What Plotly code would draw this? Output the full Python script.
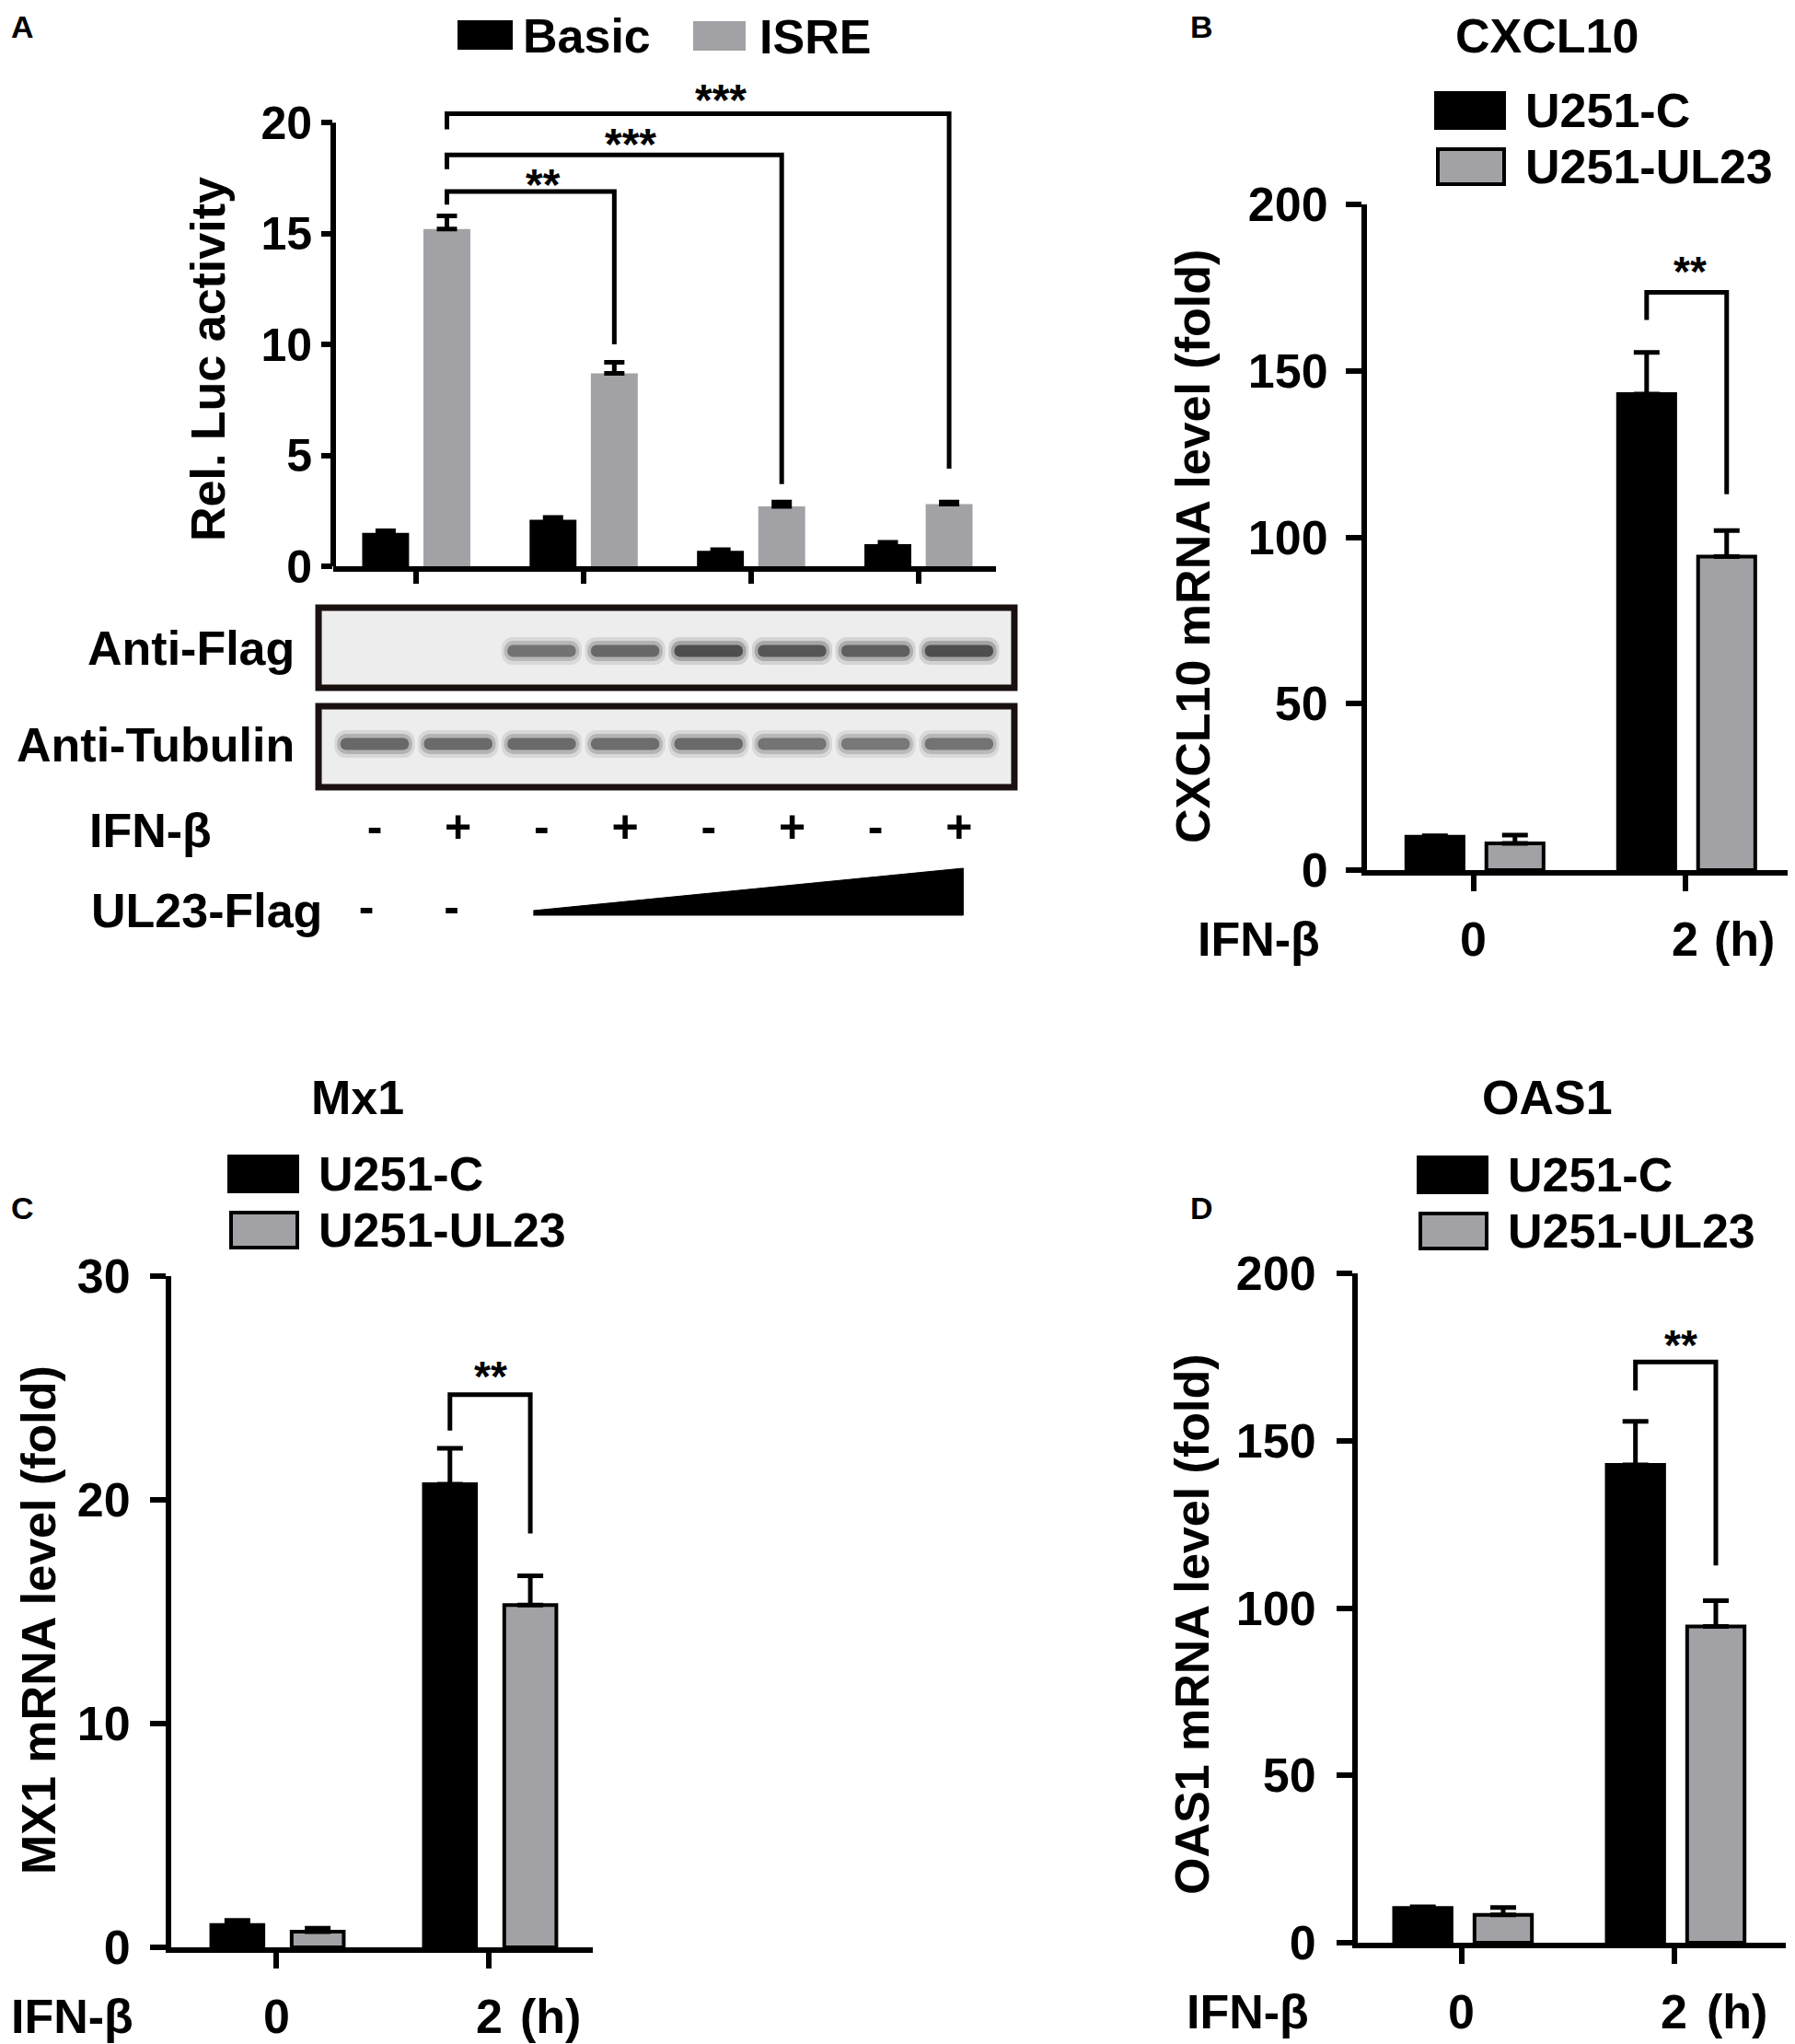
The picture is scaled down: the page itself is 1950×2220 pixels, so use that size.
import plotly.graph_objects as go

# the page adds an 8px body margin, so the figure is drawn that much smaller
PAD = 8
W, H = 1950 - PAD, 2220 - PAD
FONT = "Liberation Sans, Arial, Helvetica, sans-serif"
GREY = "#a2a2a6"

# ---------- A: luciferase reporter ----------
a_groups = [0, 1, 2, 3]
a_basic = [1.5, 2.1, 0.7, 1.0]
a_basic_err = [0.1, 0.1, 0.05, 0.08]
a_isre = [15.2, 8.7, 2.7, 2.8]
a_isre_err = [0.6, 0.5, 0.2, 0.1]
a_yticks = [0, 5, 10, 15, 20]
a_cmp_groups = [1, 2, 3]              # each compared with ISRE of group 0
a_brk_top = [16.9, 18.55, 20.4]
a_brk_low_left = [16.3, 17.9, 19.7]
a_brk_low_right = [10.0, 3.7, 4.4]
a_stars = ["**", "***", "***"]
a_star_x = [0.76, 1.28, 1.82]
a_star_y = [17.6, 19.4, 21.4]

# ---------- A: western blot ----------
lanes = [0, 1, 2, 3, 4, 5, 6, 7]
flag_band = [0.0, 0.0, 0.55, 0.62, 0.8, 0.74, 0.68, 0.8]
tubulin_band = [0.62, 0.6, 0.6, 0.58, 0.6, 0.54, 0.52, 0.55]
ifn_signs = ["-", "+", "-", "+", "-", "+", "-", "+"]
ul23_signs = ["-", "-"]
ul23_sign_lanes = [-0.1, 0.92]
ul23_ramp_lanes = [1.9, 7.05]

# ---------- B, C, D: qPCR ----------
times = ["0", "2"]
cxcl10_c = [10, 143]
cxcl10_c_err = [0.3, 12.5]
cxcl10_ul23 = [8, 94.2]
cxcl10_ul23_err = [2.5, 7.8]
cxcl10_brk = [173.6, 165.3, 112.9]     # top, left end, right end
cxcl10_star = [1.02, 182.4]

mx1_c = [1.0, 20.7]
mx1_c_err = [0.2, 1.6]
mx1_ul23 = [0.7, 15.3]
mx1_ul23_err = [0.15, 1.3]
mx1_brk = [24.7, 23.1, 18.5]
mx1_star = [1.01, 25.9]

oas1_c = [10.4, 142.8]
oas1_c_err = [0.3, 13]
oas1_ul23 = [8.3, 94.5]
oas1_ul23_err = [2.2, 7.7]
oas1_brk = [173.5, 165.0, 112.7]
oas1_star = [1.03, 181]

big_ticks = [0, 50, 100, 150, 200]
mx1_ticks = [0, 10, 20, 30]


def fx(x):
    return (x - PAD) / W


def fy(y):
    return 1 - (y - PAD) / H


def text(s, x, y, size=52, xanchor="center", angle=0, **kw):
    return dict(text=s, x=fx(x), y=fy(y), xref="paper", yref="paper",
                xanchor=xanchor, yanchor="middle", textangle=angle,
                showarrow=False, font=dict(family=FONT, size=size, color="black", weight="bold"), **kw)


fig = go.Figure()
annotations = []
shapes = []


def bars(xa, ya, vals, errs, color, width, off, outline, err_w, cap):
    fig.add_trace(go.Bar(
        x=[0, 1, 2, 3][:len(vals)], y=vals, width=width, offset=off - width / 2,
        marker=dict(color=color, line=dict(color="black", width=outline)),
        error_y=dict(type="data", array=errs, arrayminus=[0] * len(errs), symmetric=False,
                     color="black", thickness=err_w, width=cap),
        xaxis=xa, yaxis=ya, showlegend=False, hoverinfo="skip"))


def bracket(xa, ya, x0, x1, top, low0, low1):
    fig.add_trace(go.Scatter(
        x=[x0, x0, x1, x1], y=[low0, top, top, low1], mode="lines",
        line=dict(color="black", width=5), xaxis=xa, yaxis=ya,
        showlegend=False, hoverinfo="skip"))


def star(xa, ya, s, x, y, size=46):
    annotations.append(dict(text=s, x=x, y=y, xref=xa, yref=ya, showarrow=False,
                            yanchor="middle", yshift=-9,
                            font=dict(family=FONT, size=size, color="black", weight="bold")))


def swatch(x0, y0, x1, y1, color, outline):
    shapes.append(dict(type="rect", xref="paper", yref="paper", x0=fx(x0), x1=fx(x1),
                       y0=fy(y0), y1=fy(y1), fillcolor=color,
                       line=dict(color="black", width=outline)))


# ---------- panel A bars ----------
bars("x", "y", a_basic, a_basic_err, "black", 0.28, -0.183, 0, 5, 11)
bars("x", "y", a_isre, a_isre_err, GREY, 0.28, 0.183, 0, 5, 11)
for g, top, l0, l1 in zip(a_cmp_groups, a_brk_top, a_brk_low_left, a_brk_low_right):
    bracket("x", "y", a_groups[0] + 0.183, g + 0.183, top, l0, l1)
for s, x, y in zip(a_stars, a_star_x, a_star_y):
    star("x", "y", s, x, y, size=48)
# y axis line only up to the last tick
shapes.append(dict(type="line", xref="x domain", yref="y", x0=0, x1=0,
                   y0=a_yticks[0], y1=a_yticks[-1], line=dict(color="black", width=6)))

# legend sits at the very top, kept just inside the page
swatch(497, 22, 557, 54, "black", 0)
annotations.append(text("Basic", 566, 39, xanchor="left"))
swatch(753, 23, 810, 55, GREY, 0)
annotations.append(text("ISRE", 823, 40, xanchor="left"))
annotations.append(text("Rel. Luc activity", 226, 390, angle=-90))
annotations.append(text("A", 24, 29, size=34))

# ---------- panel A western blot ----------
FLAG_BOX, TUB_BOX = (5, 92), (112, 200)
FLAG_Y, TUB_Y, SIGN_Y, UL23_Y = 52, 153, 247, 334
for y0, y1 in (FLAG_BOX, TUB_BOX):
    shapes.append(dict(type="rect", xref="x2 domain", yref="y2", x0=0.004, x1=0.996,
                       y0=y0, y1=y1, fillcolor="#ededed", layer="below",
                       line=dict(color="#1a1010", width=7)))

for band, yc in ((flag_band, FLAG_Y), (tubulin_band, TUB_Y)):
    for h, w, k, r in ((30, 0.96, 0.18, 12), (22, 0.9, 0.35, 10), (13, 0.82, 0.9, 6)):
        fig.add_trace(go.Bar(
            x=lanes, y=[h] * len(lanes), base=[yc - h / 2] * len(lanes),
            width=w, offset=-w / 2,
            marker=dict(color=[f"rgba(45,45,45,{a * k:.3f})" for a in band],
                        line=dict(width=0), cornerradius=r),
            xaxis="x2", yaxis="y2", showlegend=False, hoverinfo="skip"))

fig.add_trace(go.Scatter(x=lanes, y=[SIGN_Y] * len(lanes), mode="text", text=ifn_signs,
                         textfont=dict(family=FONT, size=50, color="black", weight="bold"),
                         xaxis="x2", yaxis="y2", showlegend=False, hoverinfo="skip"))
fig.add_trace(go.Scatter(x=ul23_sign_lanes, y=[UL23_Y] * len(ul23_signs), mode="text",
                         text=ul23_signs,
                         textfont=dict(family=FONT, size=50, color="black", weight="bold"),
                         xaxis="x2", yaxis="y2", showlegend=False, hoverinfo="skip"))
r0, r1 = ul23_ramp_lanes
fig.add_trace(go.Scatter(x=[r0, r1, r1, r0], y=[339, 339, 288, 334], mode="lines",
                         fill="toself", fillcolor="black", line=dict(color="black", width=1),
                         xaxis="x2", yaxis="y2", showlegend=False, hoverinfo="skip"))

annotations.append(text("Anti-Flag", 322, 704, xanchor="right"))
annotations.append(text("Anti-Tubulin", 322, 809, xanchor="right"))
annotations.append(text("IFN-β", 95, 902, xanchor="left"))
annotations.append(text("UL23-Flag", 97, 989, xanchor="left"))


# ---------- panels B, C, D ----------
def qpcr(n, c, c_err, u, u_err, width, brk, st, letter, title, title_xy, leg, ifn_xy, h_xy, tick_y):
    xa, ya = f"x{n}", f"y{n}"
    bars(xa, ya, c, c_err, "black", width, -0.183, 4, 5, 14)
    bars(xa, ya, u, u_err, GREY, width, 0.195, 4, 5, 14)
    bracket(xa, ya, 1 - 0.183, 1 + 0.195, brk[0], brk[1], brk[2])
    star(xa, ya, "**", st[0], st[1])
    annotations.append(text(title, *title_xy))
    annotations.append(text(letter[0], letter[1], letter[2], size=34))
    lx, ly = leg
    swatch(lx, ly, lx + 74, ly + 38, "black", 4)
    annotations.append(text("U251-C", lx + 95, ly + 19, xanchor="left"))
    swatch(lx + 2, ly + 61, lx + 74, ly + 99, GREY, 4)
    annotations.append(text("U251-UL23", lx + 95, ly + 80, xanchor="left"))
    annotations.append(text("IFN-β", ifn_xy[0], ifn_xy[1], xanchor="left"))
    annotations.append(text("(h)", h_xy[0], h_xy[1]))
    for i, t in enumerate(times):
        annotations.append(dict(text=t, x=i, y=fy(tick_y), xref=xa, yref="paper",
                                showarrow=False, yanchor="middle",
                                font=dict(family=FONT, size=52, color="black", weight="bold")))


qpcr(3, cxcl10_c, cxcl10_c_err, cxcl10_ul23, cxcl10_ul23_err, 0.27, cxcl10_brk, cxcl10_star,
     ("B", 1305, 29), "CXCL10", (1680, 39), (1560, 101), (1299, 1020), (1895, 1020), 1020)
qpcr(4, mx1_c, mx1_c_err, mx1_ul23, mx1_ul23_err, 0.245, mx1_brk, mx1_star,
     ("C", 24, 1312), "Mx1", (388, 1192), (249, 1256), (10, 2190), (598, 2190), 2190)
qpcr(5, oas1_c, oas1_c_err, oas1_ul23, oas1_ul23_err, 0.27, oas1_brk, oas1_star,
     ("D", 1305, 1312), "OAS1", (1681, 1192), (1541, 1257), (1287, 2185), (1887, 2185), 2185)

annotations.append(text("CXCL10 mRNA level (fold)", 1296, 594, angle=-90))
annotations.append(text("MX1 mRNA level (fold)", 42, 1760, angle=-90))
annotations.append(text("OAS1 mRNA level (fold)", 1295, 1764, angle=-90))


def xaxis(x0, x1, rng, ticks, ticklen=17):
    return dict(domain=[fx(x0), fx(x1)], range=rng, showgrid=False, automargin=False,
                zeroline=False, showline=True, linewidth=6, linecolor="black",
                ticks="outside", ticklen=ticklen, tickwidth=6, tickcolor="black",
                tickvals=ticks, showticklabels=False, fixedrange=True)


def yaxis(y0, y1, rng, ticks, standoff, size=52, ticklen=17, line=True):
    return dict(domain=[fy(y1), fy(y0)], range=rng, showgrid=False, zeroline=False,
                automargin=False,
                showline=line, linewidth=6, linecolor="black", ticks="outside",
                ticklen=ticklen, tickwidth=6, tickcolor="black", tickvals=ticks,
                ticklabelstandoff=standoff,
                tickfont=dict(family=FONT, size=size, color="black", weight="bold"))


layout_axes = {
    "xaxis": {**xaxis(362, 1082, [-0.496, 3.463], a_groups, 13), "anchor": "y"},
    "yaxis": {**yaxis(73, 615, [0, 22.5], a_yticks, 0, size=50, ticklen=12, line=False),
              "anchor": "x"},
    "xaxis2": dict(domain=[fx(343), fx(1105)], range=[-0.706, 7.696], visible=False,
                   automargin=False, anchor="y2"),
    "yaxis2": dict(domain=[fy(1005), fy(655)], range=[350, 0], visible=False,
                   automargin=False, anchor="x2"),
    "xaxis3": {**xaxis(1485, 1945, [-0.504, 1.496], [0, 1]), "anchor": "y3"},
    "yaxis3": {**yaxis(222, 945, [0, 200], big_ticks, 9), "anchor": "x3"},
    "xaxis4": {**xaxis(186, 644, [-0.494, 1.489], [0, 1]), "anchor": "y4"},
    "yaxis4": {**yaxis(1386, 2115, [0, 30], mx1_ticks, 11), "anchor": "x4"},
    "xaxis5": {**xaxis(1475, 1940, [-0.489, 1.524], [0, 1]), "anchor": "y5"},
    "yaxis5": {**yaxis(1383, 2110, [0, 200], big_ticks, 12), "anchor": "x5"},
}

fig.update_layout(
    width=W, height=H, margin=dict(l=0, r=0, t=0, b=0, autoexpand=False),
    paper_bgcolor="white", plot_bgcolor="white",
    font=dict(family=FONT, size=52, color="black", weight="bold"),
    barmode="overlay", showlegend=False,
    annotations=annotations, shapes=shapes,
    **layout_axes,
)

fig.write_html("out.html")
